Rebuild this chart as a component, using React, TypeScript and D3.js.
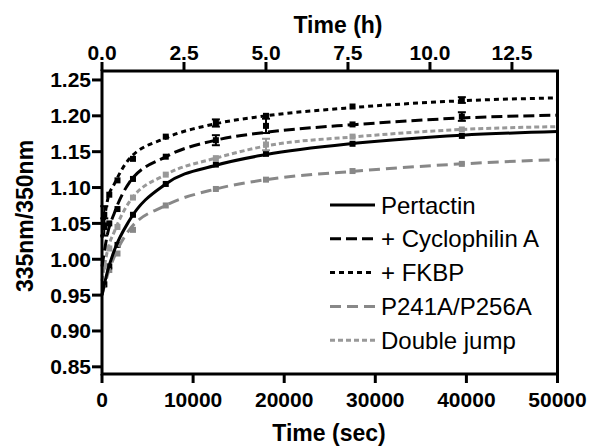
import React from "react";
import * as d3 from "d3";

// Fitted-curve knots (time in sec, ratio)
const curveTimes = [0, 600, 1400, 3000, 7000, 12500, 18000, 28000, 39500, 50000];
const pertactinCurve = [0.95, 0.983, 1.014, 1.054, 1.105, 1.131, 1.146, 1.162, 1.173, 1.178];
const cyclophilinCurve = [0.99, 1.035, 1.066, 1.107, 1.143, 1.166, 1.177, 1.188, 1.197, 1.201];
const fkbpCurve = [1.03, 1.082, 1.106, 1.14, 1.169, 1.189, 1.2, 1.212, 1.221, 1.225];
const p241aCurve = [0.95, 0.978, 1.005, 1.041, 1.075, 1.098, 1.111, 1.123, 1.133, 1.139];
const doubleJumpCurve = [0.97, 1.012, 1.04, 1.08, 1.118, 1.141, 1.158, 1.171, 1.181, 1.185];

// Measured data points
const pointTimes = [250, 800, 1700, 3400, 7000, 12500, 18000, 27500, 39500];
const pertactinPts = [0.965, 0.99, 1.02, 1.062, 1.105, 1.132, 1.147, 1.161, 1.172];
const cyclophilinPts = [1.045, 1.05, 1.07, 1.112, 1.143, 1.166, 1.186, 1.188, 1.199];
const fkbpPts = [1.062, 1.09, 1.11, 1.14, 1.171, 1.19, 1.2, 1.213, 1.222];
const p241aPts = [0.965, 0.985, 1.008, 1.041, 1.075, 1.098, 1.111, 1.123, 1.133];
const doubleJumpPts = [0.99, 1.015, 1.045, 1.086, 1.118, 1.141, 1.16, 1.171, 1.181];
const cyclophilinErr = [0.012, 0, 0, 0, 0, 0.007, 0.01, 0, 0.006];
const fkbpErr = [0.012, 0, 0, 0, 0, 0.005, 0, 0, 0.004];
const doubleJumpErr = [0, 0, 0, 0, 0, 0, 0.008, 0, 0];
const zeroErr = [0, 0, 0, 0, 0, 0, 0, 0, 0];

const seriesNames = ["Pertactin", "+ Cyclophilin A", "+ FKBP", "P241A/P256A", "Double jump"];
const yTicks = [0.85, 0.9, 0.95, 1.0, 1.05, 1.1, 1.15, 1.2, 1.25];
const xTicks = [0, 10000, 20000, 30000, 40000, 50000];
const hourTicks = [0, 2.5, 5, 7.5, 10, 12.5];

const W = 589, H = 446;
const L = 102, R = 557.5, T = 71, B = 374;
const FONT = "'Liberation Sans', Arial, Helvetica, sans-serif";

export default function App() {
  const x = d3.scaleLinear().domain([0, 50000]).range([L, R]);
  const xh = d3.scaleLinear().domain([0, 50000 / 3600]).range([L, R]);
  const y = d3.scaleLinear().domain([0.84, 1.2625]).range([B, T]);

  const styles = [
    { color: "#000", dash: "", width: 3 },
    { color: "#000", dash: "11,5", width: 3 },
    { color: "#000", dash: "5,4", width: 3 },
    { color: "#888", dash: "11,6", width: 3 },
    { color: "#999", dash: "5,3", width: 3 },
  ];
  const curves = [pertactinCurve, cyclophilinCurve, fkbpCurve, p241aCurve, doubleJumpCurve];
  const pts = [pertactinPts, cyclophilinPts, fkbpPts, p241aPts, doubleJumpPts];
  const errs = [zeroErr, cyclophilinErr, fkbpErr, zeroErr, doubleJumpErr];

  const line = d3
    .line<[number, number]>()
    .x((d) => x(d[0]))
    .y((d) => y(d[1]))
    .curve(d3.curveMonotoneX);

  const order = [3, 0, 4, 1, 2];

  return (
    <svg width={W} height={H} style={{ position: "absolute", left: 0, top: 0, background: "#fff" }}>
      <rect x={0} y={0} width={W} height={H} fill="#fff" />
      {/* markers and error bars */}
      {order.map((si) =>
        pointTimes.map((t, i) => {
          const v = pts[si][i];
          const e = errs[si][i];
          const c = styles[si].color;
          return (
            <g key={`m${si}-${i}`}>
              {e > 0 && (
                <g stroke={c} strokeWidth={2}>
                  <line x1={x(t)} x2={x(t)} y1={y(v - e)} y2={y(v + e)} />
                  <line x1={x(t) - 4} x2={x(t) + 4} y1={y(v - e)} y2={y(v - e)} />
                  <line x1={x(t) - 4} x2={x(t) + 4} y1={y(v + e)} y2={y(v + e)} />
                </g>
              )}
              <rect x={x(t) - 3} y={y(v) - 3} width={6} height={6} fill={c} />
            </g>
          );
        })
      )}
      {/* fitted curves */}
      {order.map((si) => (
        <path
          key={`c${si}`}
          d={line(curveTimes.map((t, i) => [t, curves[si][i]] as [number, number])) || ""}
          fill="none"
          stroke={styles[si].color}
          strokeWidth={styles[si].width}
          strokeDasharray={styles[si].dash}
        />
      ))}
      {/* frame */}
      <rect x={L} y={T} width={R - L} height={B - T} fill="none" stroke="#000" strokeWidth={3} />
      {/* left axis */}
      {yTicks.map((v) => (
        <g key={`y${v}`}>
          <line x1={L - 10} x2={L} y1={y(v)} y2={y(v)} stroke="#000" strokeWidth={3} />
          <text x={L - 11} y={y(v) + 7.5} textAnchor="end" fontFamily={FONT} fontWeight="bold" fontSize={21} fill="#000">
            {v.toFixed(2)}
          </text>
        </g>
      ))}
      {/* bottom axis */}
      {xTicks.map((v) => (
        <g key={`x${v}`}>
          <line x1={x(v)} x2={x(v)} y1={B} y2={B + 9} stroke="#000" strokeWidth={3} />
          <text x={x(v)} y={406.5} textAnchor="middle" fontFamily={FONT} fontWeight="bold" fontSize={21} fill="#000">
            {v}
          </text>
        </g>
      ))}
      {/* top axis */}
      {hourTicks.map((v) => (
        <g key={`h${v}`}>
          <line x1={xh(v)} x2={xh(v)} y1={T} y2={T - 9} stroke="#000" strokeWidth={3} />
          <text x={xh(v)} y={59.5} textAnchor="middle" fontFamily={FONT} fontWeight="bold" fontSize={21} fill="#000">
            {v.toFixed(1)}
          </text>
        </g>
      ))}
      <text x={338} y={33} textAnchor="middle" fontFamily={FONT} fontWeight="bold" fontSize={23} fill="#000">
        Time (h)
      </text>
      <text x={329} y={441} textAnchor="middle" fontFamily={FONT} fontWeight="bold" fontSize={23} fill="#000">
        Time (sec)
      </text>
      <text
        transform={`translate(33,216) rotate(-90)`}
        textAnchor="middle"
        fontFamily={FONT}
        fontWeight="bold"
        fontSize={23}
        fill="#000"
      >
        335nm/350nm
      </text>
      {/* legend */}
      {seriesNames.map((name, i) => {
        const ly = 205 + i * 33.8;
        return (
          <g key={`l${i}`}>
            <line
              x1={330}
              x2={375}
              y1={ly}
              y2={ly}
              stroke={styles[i].color}
              strokeWidth={styles[i].width}
              strokeDasharray={styles[i].dash}
            />
            <text x={381} y={ly + 8.5} fontFamily={FONT} fontSize={24} fill="#000">
              {name}
            </text>
          </g>
        );
      })}
    </svg>
  );
}
